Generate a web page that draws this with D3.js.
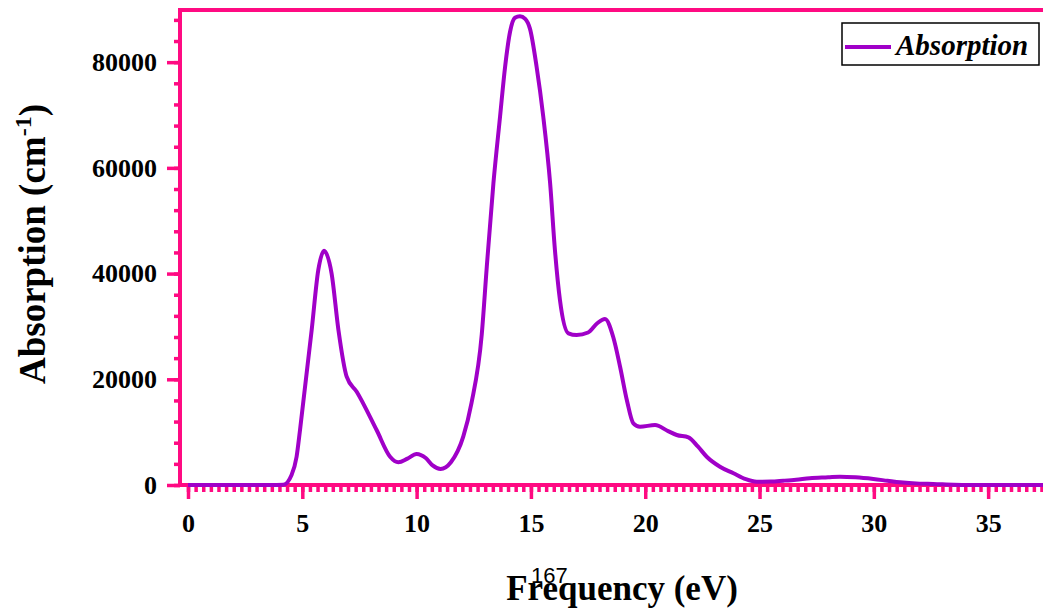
<!DOCTYPE html>
<html>
<head>
<meta charset="utf-8">
<script src="https://cdn.jsdelivr.net/npm/d3@7"></script>
<style>
  body { margin: 0; background: #fff; }
  text { font-family: "Liberation Serif", "Times New Roman", serif; }
</style>
</head>
<body>
<script>
//photon energy (eV) and absorption (cm-1)
var energy = [0, 2, 3.6, 4.17, 4.53, 4.75, 4.9, 5.41, 5.7, 5.95, 6.28, 6.58, 6.94, 7.38, 8.25, 8.84, 9.2,
  9.6, 10.0, 10.4, 10.7, 11.05, 11.5, 12.04, 12.4, 12.85, 13.07, 13.36, 13.65, 13.87, 14.09, 14.3, 14.52,
  14.75, 14.96, 15.25, 15.54, 15.84, 16.05, 16.27, 16.64, 17.0, 17.5, 17.9, 18.24, 18.6, 18.9, 19.2, 19.48,
  19.77, 20.43, 21.0, 21.38, 21.89, 22.3, 22.69, 23.27, 23.86, 24.4, 24.88, 25.5, 26.04, 26.6, 27.2,
  28.0, 28.52, 29.2, 29.98, 30.6, 31.15, 32.0, 32.6, 33.5, 34.2, 37.4];
var absorption = [0, 0, 0, 50, 1900, 5350, 10400, 29330, 40700, 44300, 40050, 29330, 20500, 17650, 10400, 5350, 4300,
  5000, 5870, 5100, 3700, 3030, 4300, 9140, 15500, 28500, 41300, 57100, 69700, 79100, 85800, 88400, 88700,
  88200, 86300, 79100, 69700, 57100, 44500, 35000, 28700, 28380, 28850, 30600, 31410, 28000, 22380, 16000, 11670,
  11030, 11350, 10200, 9460, 9020, 7300, 5350, 3460, 2210, 1100, 630, 650, 810, 1000, 1270,
  1450, 1570, 1450, 1135, 800, 510, 260, 190, 40, 0, 0];

var xMajor = [0, 5, 10, 15, 20, 25, 30, 35];
var yMajor = [0, 20000, 40000, 60000, 80000];

var pink = "#ff0a82",
    purple = "#a000c8";

var width = 1043, height = 609;
var plotLeft = 180, plotTop = 10, plotBottom = 485;

var svg = d3.select("body")
    .append("svg")
    .attr("width", width)
    .attr("height", height);

var x = d3.scaleLinear()
    .domain([-0.35, 37.4])
    .range([plotLeft, width]);

var y = d3.scaleLinear()
    .domain([0, 89870])
    .range([plotBottom, plotTop]);

var xMinor = d3.range(0, 37.4, 1 / 3);
var yMinor = d3.range(0, 89000, 4000);

//minor ticks first, then major axes
var xMinorAxis = svg.append("g")
    .attr("transform", "translate(0," + plotBottom + ")")
    .call(d3.axisBottom(x).tickValues(xMinor).tickSize(7).tickFormat(""));

var yMinorAxis = svg.append("g")
    .attr("transform", "translate(" + plotLeft + ",0)")
    .call(d3.axisLeft(y).tickValues(yMinor).tickSize(6).tickFormat(""));

var xAxis = svg.append("g")
    .attr("transform", "translate(0," + plotBottom + ")")
    .call(d3.axisBottom(x).tickValues(xMajor).tickSize(14).tickPadding(14.5).tickFormat(d3.format("d")));

var yAxis = svg.append("g")
    .attr("transform", "translate(" + plotLeft + ",0)")
    .call(d3.axisLeft(y).tickValues(yMajor).tickSize(13).tickPadding(10).tickFormat(d3.format("d")));

[xMinorAxis, yMinorAxis, xAxis, yAxis].forEach(function(g){
  g.selectAll(".domain").remove();
  g.selectAll(".tick line").attr("stroke", pink).attr("stroke-width", 3.5);
  g.selectAll(".tick text")
    .attr("fill", "#000")
    .style("font-family", "'Liberation Serif', serif")
    .style("font-weight", "bold")
    .style("font-size", "26px");
});

//axis frame lines
svg.append("line")
    .attr("x1", plotLeft).attr("x2", width)
    .attr("y1", plotBottom).attr("y2", plotBottom)
    .attr("stroke", pink).attr("stroke-width", 4);
svg.append("line")
    .attr("x1", plotLeft).attr("x2", plotLeft)
    .attr("y1", plotTop).attr("y2", plotBottom)
    .attr("stroke", pink).attr("stroke-width", 4);
svg.append("line")
    .attr("x1", plotLeft - 2).attr("x2", width)
    .attr("y1", plotTop).attr("y2", plotTop)
    .attr("stroke", pink).attr("stroke-width", 4);

//curve
var line = d3.line()
    .x(function(d, i){ return x(energy[i]); })
    .y(function(d){ return y(d); })
    .curve(d3.curveMonotoneX);

svg.append("path")
    .datum(absorption)
    .attr("d", line)
    .attr("fill", "none")
    .attr("stroke", purple)
    .attr("stroke-width", 4)
    .attr("stroke-linejoin", "round");

//legend
var legend = svg.append("g");
legend.append("rect")
    .attr("x", 842).attr("y", 23)
    .attr("width", 197).attr("height", 42)
    .attr("fill", "#fff")
    .attr("stroke", "#000")
    .attr("stroke-width", 1.5);
legend.append("line")
    .attr("x1", 845).attr("x2", 891)
    .attr("y1", 47).attr("y2", 47)
    .attr("stroke", purple).attr("stroke-width", 4);
legend.append("text")
    .attr("x", 896).attr("y", 55)
    .style("font-weight", "bold")
    .style("font-style", "italic")
    .style("font-size", "29px")
    .text("Absorption");

//axis titles
svg.append("text")
    .attr("x", 622).attr("y", 600)
    .attr("text-anchor", "middle")
    .style("font-weight", "bold")
    .style("font-size", "35px")
    .text("Frequency (eV)");

var yTitle = svg.append("text")
    .attr("transform", "translate(45,244) rotate(-90)")
    .attr("text-anchor", "middle")
    .style("font-weight", "bold")
    .style("font-size", "37px");
yTitle.append("tspan").text("Absorption (cm");
yTitle.append("tspan").attr("dy", -14).style("font-size", "24px").text("-1");
yTitle.append("tspan").attr("dy", 14).text(")");

//page number left on the figure
svg.append("text")
    .attr("x", 531).attr("y", 583)
    .style("font-family", "'Liberation Sans', Arial, sans-serif")
    .style("font-size", "22px")
    .text("167");
</script>
</body>
</html>
